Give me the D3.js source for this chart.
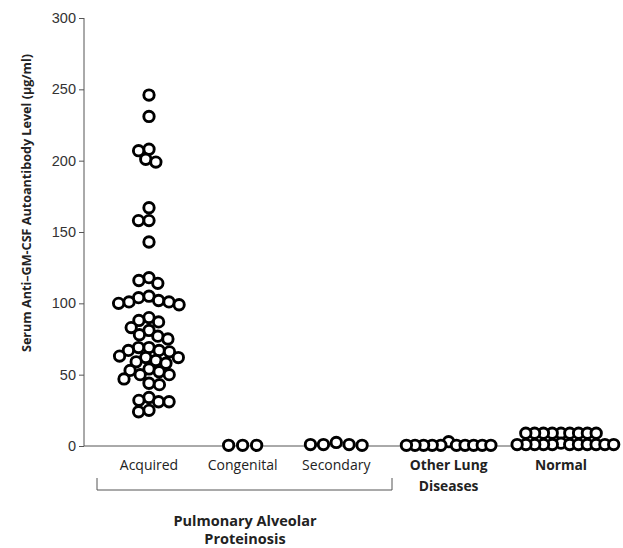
<!DOCTYPE html>
<html>
<head>
<meta charset="utf-8">
<script src="https://cdn.jsdelivr.net/npm/d3@7"></script>
<style>
    body { margin: 0; background: #fff; }
    svg { font-family: "Open Sans", sans-serif; }
    .tick text { fill: #333; font-size: 14.5px; }
    .tick line, .domain { stroke: #555; }
    .dot { fill: #fff; stroke: #000; stroke-width: 2.9; }
    .catlabel { fill: #222; font-size: 14px; text-anchor: middle; }
    .catlabel.bold { font-weight: bold; font-size: 13.8px; }
    .grouptitle { fill: #222; font-size: 14.5px; font-weight: bold; text-anchor: middle; }
</style>
</head>
<body>
<svg width="623" height="548"></svg>
<script>
// values (µg/ml)
const ACQUIRED = [
    246, 231, 208, 207, 201, 199, 167, 158, 158, 143,
    118, 116, 114,
    105, 104, 102, 101, 101, 100, 99,
    90, 88, 87, 83, 81,
    78, 77, 75, 69, 69,
    67, 67, 66, 63, 62, 62, 60, 59, 58, 54, 53, 52, 50, 50, 47, 44, 43,
    34, 32, 31, 31, 25, 24
];
const CONGENITAL = [0.5, 0.5, 0.5];
const SECONDARY = [1, 1, 0.5, 2.5, 1];
const OTHER_LUNG = [0.5, 0.5, 3, 0.5, 0.5, 0.5, 0.5, 0.5, 0.5, 0.5, 0.5];
const NORMAL = [9, 9, 9, 9, 9, 9, 9, 9, 9,
                1, 1, 1, 1, 1, 1, 2, 1, 1, 1, 1, 1];

const CATEGORIES = ['Acquired', 'Congenital', 'Secondary', 'Other Lung Diseases', 'Normal'];
const CAT_LINES = [['Acquired'], ['Congenital'], ['Secondary'], ['Other Lung', 'Diseases'], ['Normal']];
const GROUP_TITLE = ['Pulmonary Alveolar', 'Proteinosis'];
const Y_TICKS = [0, 50, 100, 150, 200, 250, 300];
const Y_TITLE = 'Serum Anti\u2013GM-CSF Autoantibody Level (\u03bcg/ml)';

const SERIES = [ACQUIRED, CONGENITAL, SECONDARY, OTHER_LUNG, NORMAL];

// layout
const slot = [0, 1, 2, 3.2, 4.4];           // PAP subgroups packed, others spaced out
const spread = [10.5, 14, 13, 8.6, 8.8];    // swarm collision distance per group
const BOLD = [false, false, false, true, true];

const svg = d3.select('svg');

const y = d3.scaleLinear().domain([0, 300]).range([446, 18]);
const x = d3.scaleLinear().domain([0, 4.4]).range([149, 561]);

// simple deterministic beeswarm: place points from the top down, as close to centre as possible
function swarm(values, cx, d) {
    const placed = [];
    const order = values.map((v, i) => i).sort((a, b) => values[b] - values[a]);
    order.forEach(i => {
        const py = y(values[i]);
        const blocked = [];
        placed.forEach(p => {
            const dy = Math.abs(p.y - py);
            if (dy < d) {
                const w = Math.sqrt(d * d - dy * dy);
                blocked.push([p.x - w, p.x + w]);
            }
        });
        const cands = [cx].concat(blocked.flat());
        cands.sort((a, b) => Math.abs(a - cx) - Math.abs(b - cx));
        const px = cands.find(c => blocked.every(b => c <= b[0] + 1e-6 || c >= b[1] - 1e-6));
        placed.push({ x: px, y: py, v: values[i] });
    });
    return placed;
}

// axes
svg.append('g')
    .attr('transform', 'translate(84,0)')
    .call(d3.axisLeft(y).tickValues(Y_TICKS).tickSize(5).tickPadding(3))
    .call(g => g.select('.domain').attr('d', `M0,${y(300)}V${y(0)}`));

svg.append('line')
    .attr('x1', 84).attr('x2', 613)
    .attr('y1', y(0)).attr('y2', y(0))
    .attr('stroke', '#555');

svg.append('text')
    .attr('transform', 'translate(31,203) rotate(-90)')
    .attr('text-anchor', 'middle')
    .attr('font-size', 12.6)
    .attr('font-weight', 'bold')
    .attr('fill', '#222')
    .text(Y_TITLE);

// dots
SERIES.forEach((vals, k) => {
    const pts = swarm(vals, x(slot[k]), spread[k]);
    svg.append('g')
        .selectAll('.dot')
        .data(pts)
        .enter()
        .append('circle')
        .classed('dot', true)
        .attr('r', 5.2)
        .attr('cx', p => p.x)
        .attr('cy', p => p.y);
});

// category labels
CATEGORIES.forEach((c, k) => {
    const t = svg.append('text')
        .classed('catlabel', true)
        .classed('bold', BOLD[k])
        .attr('x', x(slot[k]))
        .attr('y', 470);
    CAT_LINES[k].forEach((line, j) => {
        t.append('tspan')
            .attr('x', x(slot[k]))
            .attr('dy', j ? 21 : 0)
            .text(line);
    });
});

// bracket under PAP subgroups
svg.append('path')
    .attr('d', 'M97,478V490H392V478')
    .attr('fill', 'none')
    .attr('stroke', '#555');

const gt = svg.append('text')
    .classed('grouptitle', true)
    .attr('y', 526);
GROUP_TITLE.forEach((line, j) => {
    gt.append('tspan').attr('x', 245).attr('dy', j ? 18 : 0).text(line);
});
</script>
</body>
</html>
